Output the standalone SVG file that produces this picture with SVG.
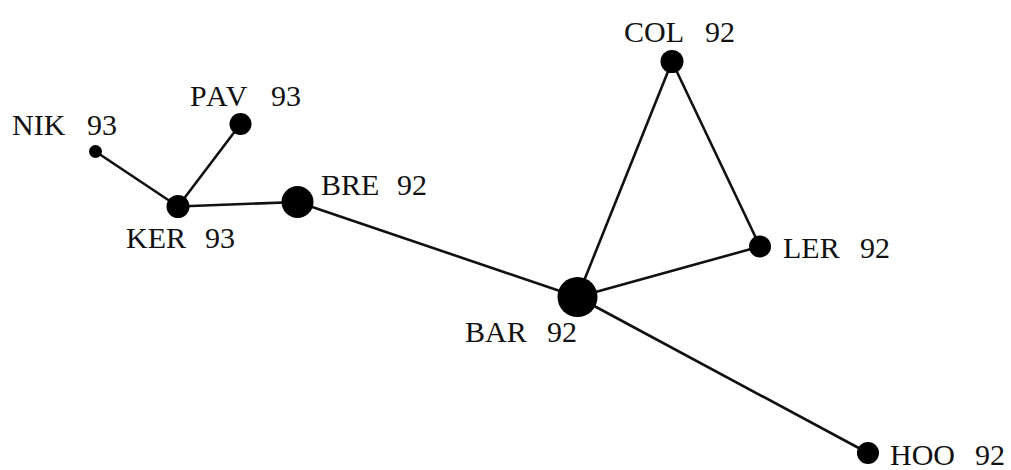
<svg xmlns="http://www.w3.org/2000/svg" width="1011" height="470" viewBox="0 0 1011 470">
<style>
.edge{stroke:#111;stroke-width:2.6;fill:none;stroke-linecap:round}
.dot{fill:#000}
text{font-family:"Liberation Serif","Times New Roman",serif;font-size:30px;fill:#111}
</style>
<rect width="1011" height="470" fill="#fff"/>
<g id="connectors">
<line class="edge" x1="95.5" y1="151.5" x2="178" y2="206.5"/>
<line class="edge" x1="240.5" y1="124" x2="178" y2="206.5"/>
<line class="edge" x1="178" y1="206.5" x2="297.5" y2="202"/>
<line class="edge" x1="297.5" y1="202" x2="577.5" y2="297"/>
<line class="edge" x1="577.5" y1="297" x2="672" y2="61.5"/>
<line class="edge" x1="672" y1="61.5" x2="760" y2="246.5"/>
<line class="edge" x1="760" y1="246.5" x2="577.5" y2="297"/>
<line class="edge" x1="577.5" y1="297" x2="868" y2="453"/>
</g>
<g id="NIK"><circle class="dot" cx="95.5" cy="151.5" r="6.5"/><text y="135"><tspan x="12">NIK</tspan><tspan x="87">93</tspan></text></g>
<g id="PAV"><circle class="dot" cx="240.5" cy="124" r="11"/><text y="106"><tspan x="190" letter-spacing="2">PAV</tspan><tspan x="271">93</tspan></text></g>
<g id="KER"><circle class="dot" cx="178" cy="206.5" r="11.5"/><text y="248"><tspan x="126">KER</tspan><tspan x="205">93</tspan></text></g>
<g id="BRE"><circle class="dot" cx="297.5" cy="202" r="16"/><text y="195"><tspan x="321">BRE</tspan><tspan x="397">92</tspan></text></g>
<g id="BAR"><circle class="dot" cx="577.5" cy="297" r="20"/><text y="341.5"><tspan x="465">BAR</tspan><tspan x="547">92</tspan></text></g>
<g id="COL"><circle class="dot" cx="672" cy="61.5" r="11.5"/><text y="41.5"><tspan x="624">COL</tspan><tspan x="705">92</tspan></text></g>
<g id="LER"><circle class="dot" cx="760" cy="246.5" r="11"/><text y="258"><tspan x="783">LER</tspan><tspan x="860">92</tspan></text></g>
<g id="HOO"><circle class="dot" cx="868" cy="453" r="11"/><text y="465"><tspan x="890">HOO</tspan><tspan x="975">92</tspan></text></g>
</svg>
